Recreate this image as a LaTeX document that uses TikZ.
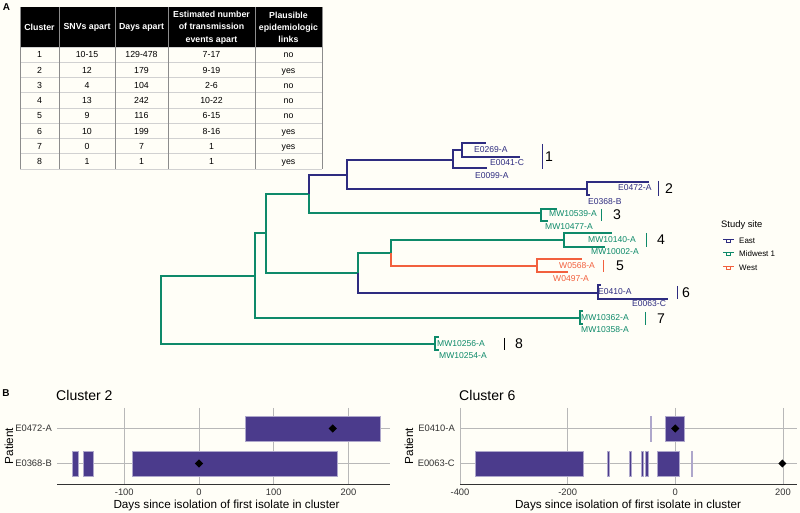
\documentclass[tikz,border=0pt]{standalone}
\usepackage{fontspec}
\setmainfont{Liberation Sans}
\usetikzlibrary{shapes.geometric}
\definecolor{mEast}{HTML}{2E2C80}
\definecolor{mMid}{HTML}{0E8A6A}
\definecolor{mWest}{HTML}{F2603E}
\definecolor{mBar}{HTML}{4B3B8C}
\definecolor{mBg}{HTML}{FFFEF7}

\begin{document}
\begin{tikzpicture}[x=0.03cm, y=-0.03cm,
    branch/.style={line width=2.1pt},
    siteE/.style={branch, draw=mEast},
    siteM/.style={branch, draw=mMid},
    siteW/.style={branch, draw=mWest},
    tiplab/.style={anchor=west, inner sep=0pt, font=\fontsize{7.3}{8}\selectfont},
    cladebar/.style={line width=0.8pt},
    cladenum/.style={inner sep=0pt, font=\fontsize{12}{14}\selectfont},
    cell/.style={inner sep=0pt, text height=5.4pt, text depth=0pt, font=\fontsize{7.5}{9}\selectfont},
    head/.style={inner sep=0pt, text=white, align=center, font=\bfseries\fontsize{7.5}{10.5}\selectfont},
    gridline/.style={draw=black!28, line width=0.7pt},
    tbar/.style={fill=mBar, draw=mBar!45, line width=0.4pt},
    dmark/.style={diamond, fill=black, inner sep=0pt, minimum size=0.25cm},
    ticklab/.style={inner sep=0pt, text=black!80, font=\fontsize{8}{9}\selectfont},
    axtitle/.style={inner sep=0pt, font=\fontsize{10}{12}\selectfont},
    paneltitle/.style={anchor=west, inner sep=0pt, font=\fontsize{12}{14}\selectfont},
    panellab/.style={inner sep=0pt, font=\bfseries\fontsize{8.5}{10}\selectfont}]

  \fill[mBg] (0,0) rectangle (800,513);
  \node[panellab] (labA) at (6.5,7) {A};
  \node[panellab] (labB) at (6,393) {B};

  % table
  \fill[black] (20,7) rectangle (322,47);
  \foreach \k in {0,...,8} {
    \draw[black!18, line width=0.5pt] (20,47+15.25*\k) -- (322,47+15.25*\k);
  }
  \foreach \vx in {20,59,115,168,255,322} {
    \draw[black!45, line width=0.5pt] (\vx,7) -- (\vx,169);
  }
  \node[head] (hCl) at (39.5,27.5) {Cluster};
  \node[head] (hSnv) at (87,27.5) {SNVs apart};
  \node[head] (hDay) at (141.5,27.5) {Days apart};
  \node[head] (hEv) at (211.5,27.5) {Estimated number\\of transmission\\events apart};
  \node[head] (hLk) at (288.5,27.5) {Plausible\\epidemiologic\\links};
  \foreach \cl/\snv/\dd/\ev/\lk [count=\i from 0] in
    {1/10-15/129-478/7-17/no, 2/12/179/9-19/yes, 3/4/104/2-6/no,
     4/13/242/10-22/no, 5/9/116/6-15/no, 6/10/199/8-16/yes,
     7/0/7/1/yes, 8/1/1/1/yes} {
    \node[cell] (r\i-cl) at (39.5,54.6+15.25*\i) {\cl};
    \node[cell] (r\i-snv) at (87,54.6+15.25*\i) {\snv};
    \node[cell] (r\i-dd) at (141.5,54.6+15.25*\i) {\dd};
    \node[cell] (r\i-ev) at (211.5,54.6+15.25*\i) {\ev};
    \node[cell] (r\i-lk) at (288.5,54.6+15.25*\i) {\lk};
  }

  % tree: inner nodes
  \coordinate (root) at (161,310);
  \coordinate (n1) at (255,276);
  \coordinate (n2) at (266,233);
  \coordinate (n3) at (309,194);
  \coordinate (n4) at (347,175);
  \coordinate (n5) at (358,273);
  \coordinate (n6) at (391,253);
  \coordinate (k1) at (453,160);
  \coordinate (k1a) at (462,150);
  \coordinate (k2) at (587,189);
  \coordinate (k3) at (541,213);
  \coordinate (k4) at (564,240);
  \coordinate (k5) at (537,266);
  \coordinate (k6) at (598,293);
  \coordinate (k7) at (580,318);
  \coordinate (k8) at (435,344);
  % tips
  \coordinate (t1-a) at (486,143);
  \coordinate (t1-b) at (520,157);
  \coordinate (t1-c) at (487,168);
  \coordinate (t2-a) at (649,182);
  \coordinate (t2-b) at (590,195);
  \coordinate (t3-a) at (557,209);
  \coordinate (t3-b) at (548,221);
  \coordinate (t4-a) at (612,233);
  \coordinate (t4-b) at (605,247);
  \coordinate (t5-a) at (582,259);
  \coordinate (t5-b) at (568,272);
  \coordinate (t6-a) at (601,285);
  \coordinate (t6-b) at (668,299);
  \coordinate (t7-a) at (583,311);
  \coordinate (t7-b) at (583,324);
  \coordinate (t8-a) at (439,337);
  \coordinate (t8-b) at (439,350);

  \draw[siteM] (root) |- (n1);
  \draw[siteM] (root) |- (k8);
  \draw[siteM] (n1) |- (n2);
  \draw[siteM] (n1) |- (k7);
  \draw[siteM] (n2) |- (n3);
  \draw[siteM] (n2) |- (n5);
  \draw[siteE] (n3) |- (n4);
  \draw[siteM] (n3) |- (k3);
  \draw[siteE] (n4) |- (k1);
  \draw[siteE] (n4) |- (k2);
  \draw[siteM] (n5) |- (n6);
  \draw[siteE] (n5) |- (k6);
  \draw[siteM] (n6) |- (k4);
  \draw[siteW] (n6) |- (k5);
  \draw[siteE] (k1) |- (k1a);
  \draw[siteE] (k1) |- (t1-c);
  \draw[siteE] (k1a) |- (t1-a);
  \draw[siteE] (k1a) |- (t1-b);
  \foreach \k/\st in {2/siteE, 3/siteM, 4/siteM, 5/siteW, 6/siteE, 7/siteM, 8/siteM} {
    \draw[\st] (k\k) |- (t\k-a);
    \draw[\st] (k\k) |- (t\k-b);
  }

  % tip labels
  \node[tiplab, text=mEast] (l1-a) at (474,150) {E0269-A};
  \node[tiplab, text=mEast] (l1-b) at (490,163) {E0041-C};
  \node[tiplab, text=mEast] (l1-c) at (475,176) {E0099-A};
  \node[tiplab, text=mEast] (l2-a) at (618,188) {E0472-A};
  \node[tiplab, text=mEast] (l2-b) at (588,202) {E0368-B};
  \node[tiplab, text=mMid] (l3-a) at (549,214) {MW10539-A};
  \node[tiplab, text=mMid] (l3-b) at (545,227) {MW10477-A};
  \node[tiplab, text=mMid] (l4-a) at (588,240) {MW10140-A};
  \node[tiplab, text=mMid] (l4-b) at (591,252) {MW10002-A};
  \node[tiplab, text=mWest] (l5-a) at (559,266) {W0568-A};
  \node[tiplab, text=mWest] (l5-b) at (553,279) {W0497-A};
  \node[tiplab, text=mEast] (l6-a) at (598,292) {E0410-A};
  \node[tiplab, text=mEast] (l6-b) at (632,304) {E0063-C};
  \node[tiplab, text=mMid] (l7-a) at (581,318) {MW10362-A};
  \node[tiplab, text=mMid] (l7-b) at (581,330) {MW10358-A};
  \node[tiplab, text=mMid] (l8-a) at (437,344) {MW10256-A};
  \node[tiplab, text=mMid] (l8-b) at (439,356) {MW10254-A};

  % clade bars
  \foreach \n/\bx/\ya/\yb/\nx/\cc in {1/542/144/169/549/mEast, 2/658/181/196/669/mEast,
      3/601/209/221/617/mMid, 4/646/233/247/661/mMid, 5/603/260/272/620/mWest,
      6/677/286/299/686/mEast, 7/645/312/325/661/mMid, 8/504/338/350/519/black} {
    \coordinate (b\n-top) at (\bx,\ya);
    \coordinate (b\n-bot) at (\bx,\yb);
    \draw[cladebar, draw=\cc] (b\n-top) -- (b\n-bot);
    \node[cladenum] (num\n) at (\nx,{(\ya+\yb)/2}) {\n};
  }

  % legend
  \node[anchor=west, inner sep=0pt, font=\fontsize{8}{9}\selectfont] (legT) at (721,225) {Study site};
  \foreach \s/\cc/\yy [count=\j] in {East/mEast/241, Midwest 1/mMid/254, West/mWest/268} {
    \draw[\cc, line width=1.6pt] (723,\yy-1.5) -- (734,\yy-1.5);
    \draw[\cc, line width=0.6pt] (726.5,\yy-1) -- (726.5,\yy+1.5) -- (730.5,\yy+1.5) -- (730.5,\yy-1);
    \node[anchor=west, inner sep=0pt, font=\fontsize{6.8}{8}\selectfont] (leg\j) at (739,\yy) {\s};
  }

  % panel B, cluster 2
  \node[paneltitle] (ttl2) at (56,395) {Cluster 2};
  \node[ticklab, anchor=east] (p2-a) at (52,428) {E0472-A};
  \node[ticklab, anchor=east] (p2-b) at (52,463) {E0368-B};
  \node[axtitle, rotate=90] (yt2) at (9,446) {Patient};
  \node[axtitle] (xt2) at (226.5,505) {Days since isolation of first isolate in cluster};
  \begin{scope}[shift={(199,0)}, x=0.02241cm]
    \foreach \d in {-100,0,100,200} {
      \draw[gridline] (\d,408) -- (\d,484);
      \node[ticklab] (x2\d) at (\d,492) {\d};
    }
    \draw[gridline] (-190,428) -- (256,428);
    \draw[gridline] (-190,463) -- (256,463);
    \fill[tbar] (62,416) rectangle (242,441);
    \foreach \a/\b in {-170/-162, -155/-142, -89/185} {
      \fill[tbar] (\a,451) rectangle (\b,476);
    }
    \node[dmark] (d2-a) at (179,428.5) {};
    \node[dmark] (d2-b) at (0,463.5) {};
    \draw[black!80, line width=0.7pt] (-190,484) -- (256,484);
  \end{scope}

  % panel B, cluster 6
  \node[paneltitle] (ttl6) at (459,395) {Cluster 6};
  \node[ticklab, anchor=east] (p6-a) at (455,428) {E0410-A};
  \node[ticklab, anchor=east] (p6-b) at (455,463) {E0063-C};
  \node[axtitle, rotate=90] (yt6) at (409,446) {Patient};
  \node[axtitle] (xt6) at (628,505) {Days since isolation of first isolate in cluster};
  \begin{scope}[shift={(675.3,0)}, x=0.016149cm]
    \foreach \d in {-400,-200,0,200} {
      \draw[gridline] (\d,408) -- (\d,484);
      \node[ticklab] (x6\d) at (\d,492) {\d};
    }
    \draw[gridline] (-400,428) -- (226,428);
    \draw[gridline] (-400,463) -- (226,463);
    \foreach \a/\b in {-47.2/-45.4, -19/17} {
      \fill[tbar] (\a,416) rectangle (\b,441);
    }
    \foreach \a/\b in {-372/-171, -126/-122.6, -86/-81, -63.7/-59.4, -56.3/-50, -33.4/7.4, 29.5/31.3} {
      \fill[tbar] (\a,451) rectangle (\b,476);
    }
    \node[dmark] (d6-a) at (0,428.5) {};
    \node[dmark] (d6-b) at (199,463.5) {};
    \draw[black!80, line width=0.7pt] (-400,484) -- (226,484);
  \end{scope}
\end{tikzpicture}
\end{document}
